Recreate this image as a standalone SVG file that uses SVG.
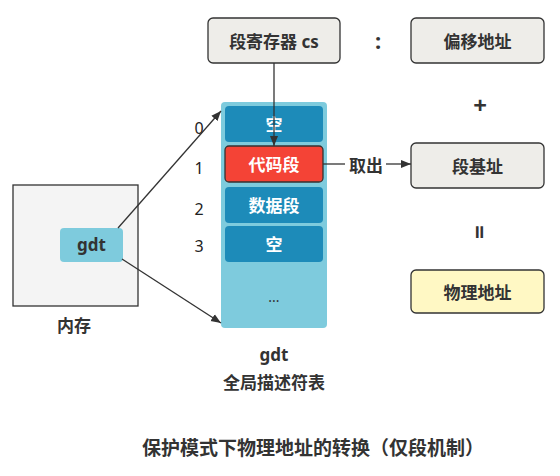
<svg xmlns="http://www.w3.org/2000/svg" width="560" height="476" viewBox="0 0 560 476">
<defs>
<style>
text{font-family:"Noto Sans","Noto Sans CJK SC",sans-serif;text-anchor:middle;dominant-baseline:central}
.b{font-weight:bold;font-size:17px;fill:#333}
.w{font-weight:bold;font-size:17px;fill:#fff}
.box{fill:#EEEDE9;stroke:#333;stroke-width:1.3}
.row{fill:#1D8BB9}
.idx{font-size:16px;fill:#222}
.ln{stroke:#333;stroke-width:1.3;fill:none}
</style>
<marker id="ah" viewBox="0 0 10 10" refX="10" refY="5" markerWidth="10" markerHeight="10" markerUnits="userSpaceOnUse" orient="auto">
<path d="M0,1 L10,5 L0,9 Z" fill="#333"/>
</marker>
</defs>
<rect width="560" height="476" fill="#fff"/>

<g id="memory">
<rect x="13" y="185" width="125" height="121" fill="#F4F4F4" stroke="#333" stroke-width="1.3"/>
<text class="b" x="74" y="325">内存</text>
</g>
<g id="gdt-ptr">
<rect x="60" y="228" width="63" height="34" rx="4" fill="#7ECBDD"/>
<text class="b" x="91.5" y="244">gdt</text>
</g>

<g id="gdt-table">
<rect x="221" y="102" width="106" height="226" rx="4" fill="#7ECBDD"/>
<text x="274" y="296" style="font-size:14px" fill="#333">...</text>
<text class="b" x="274" y="354">gdt</text>
<text class="b" x="274" y="382">全局描述符表</text>
</g>
<g id="row0"><rect class="row" x="225" y="106" width="98" height="36" rx="4"/><text class="w" x="274" y="124">空</text></g>
<g id="row1"><rect x="225" y="146" width="98" height="36" rx="4" fill="#F44336" stroke="#333" stroke-width="1.3"/><text class="w" x="274" y="164">代码段</text></g>
<g id="row2"><rect class="row" x="225" y="187" width="98" height="36" rx="4"/><text class="w" x="274" y="205">数据段</text></g>
<g id="row3"><rect class="row" x="225" y="226" width="98" height="36" rx="4"/><text class="w" x="274" y="244">空</text></g>
<g id="indices">
<text class="idx" x="199" y="128">0</text>
<text class="idx" x="199" y="168">1</text>
<text class="idx" x="199" y="209">2</text>
<text class="idx" x="199" y="246">3</text>
</g>

<g id="cs"><rect class="box" x="208" y="18" width="132" height="45" rx="5"/><text class="b" x="274" y="41">段寄存器 cs</text></g>
<g id="colon"><text class="b" x="378" y="40" style="font-size:22px">:</text></g>
<g id="offset"><rect class="box" x="411" y="18" width="133" height="45" rx="5"/><text class="b" x="477.5" y="41">偏移地址</text></g>
<g id="plus"><text class="b" x="480" y="104" style="font-size:24px">+</text></g>
<g id="base"><rect class="box" x="411" y="143" width="133" height="45" rx="5"/><text class="b" x="477.5" y="166">段基址</text></g>
<g id="equals"><text class="b" x="480" y="232" style="font-size:24px" transform="rotate(90 480 232)">=</text></g>
<g id="phys"><rect x="411" y="270" width="133" height="43" rx="5" fill="#FFF8C4" stroke="#333" stroke-width="1.3"/><text class="b" x="477.5" y="292">物理地址</text></g>

<g id="connectors">
<line class="ln" x1="274" y1="63" x2="274" y2="146" marker-end="url(#ah)"/>
<line class="ln" x1="118" y1="228" x2="221" y2="111" marker-end="url(#ah)"/>
<line class="ln" x1="122" y1="259" x2="221" y2="323" marker-end="url(#ah)"/>
<line class="ln" x1="323" y1="164" x2="345" y2="164"/>
<line class="ln" x1="386" y1="164" x2="411" y2="164" marker-end="url(#ah)"/>
<text class="b" x="366" y="165">取出</text>
</g>

<g id="title"><text class="b" x="313" y="448" style="font-size:19px">保护模式下物理地址的转换（仅段机制）</text></g>
</svg>
